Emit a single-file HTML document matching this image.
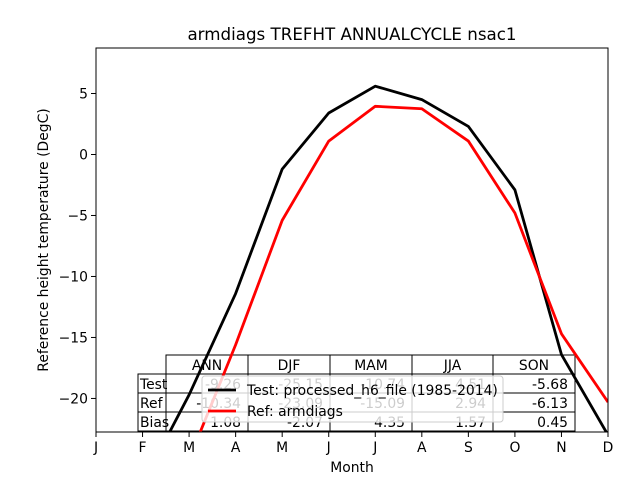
<!DOCTYPE html>
<html><head><meta charset="utf-8"><style>
html,body{margin:0;background:#fff;overflow:hidden;width:640px;height:480px;}
svg{display:block;font-family:"DejaVu Sans","Liberation Sans",sans-serif;}
</style></head><body>
<svg id="chart" width="640" height="480" xmlns="http://www.w3.org/2000/svg">
<rect width="640" height="480" fill="#fff"/>
<text x="352" y="40" font-size="16.7" text-anchor="middle">armdiags TREFHT ANNUALCYCLE nsac1</text>
<g id="table"></g>
<g id="lines"></g>
<g id="axes"></g>
<g id="legend">
<rect x="202" y="376" width="301" height="46" rx="3" fill="#fff" fill-opacity="0.8" stroke="#ccc"/>
<line x1="208" y1="390" x2="236" y2="390" stroke="#000" stroke-width="2.8"/>
<text x="247" y="395" font-size="13.9">Test: processed_h6_file (1985-2014)</text>
<line x1="208" y1="411" x2="236" y2="411" stroke="#f00" stroke-width="2.8"/>
<text x="247" y="416" font-size="13.9">Ref: armdiags</text>
</g>
</svg>
<script>
const months = ["J","F","M","A","M","J","J","A","S","O","N","D"];
const testVals = [-28, -27, -19.7, -11.4, -1.2, 3.4, 5.6, 4.5, 2.3, -2.9, -16.4, -23];
const refVals = [-30, -30, -25, -15.6, -5.4, 1.1, 3.95, 3.75, 1.1, -4.8, -14.7, -20.3];
const yTicks = [5, 0, -5, -10, -15, -20];
const tableCols = ["ANN","DJF","MAM","JJA","SON"];
const tableRows = ["Test","Ref","Bias"];
const testRow = ["-9.26","-25.15","-10.74","4.51","-5.68"];
const refRow = ["-10.34","-23.09","-15.09","2.94","-6.13"];
const biasRow = ["1.08","-2.07","4.35","1.57","0.45"];

const NS="http://www.w3.org/2000/svg";
const L=96,R=608,T=48,B=432, yMin=-22.75, yMax=8.73;
const xs=i=>L+i*(R-L)/11;
const ys=v=>B-(v-yMin)/(yMax-yMin)*(B-T);
function mk(tag,attrs,parent,txt){const e=document.createElementNS(NS,tag);for(const k in attrs)e.setAttribute(k,attrs[k]);if(txt!==undefined)e.textContent=txt;parent.appendChild(e);return e;}

const tb=document.getElementById('table');
const colX=[166,248,330,412,493,575], rowY=[355,374,393,412,431];
for(let c=0;c<5;c++){
  const r=mk('rect',{x:colX[c],y:rowY[0],width:colX[c+1]-colX[c],height:19,fill:'#fff',stroke:'#000'},tb);
  
  
  const t=mk('text',{x:(colX[c]+colX[c+1])/2,y:rowY[0]+15,'font-size':13.9,'text-anchor':'middle'},tb,tableCols[c]);
  
  
}
const rowsData=[testRow,refRow,biasRow];
for(let r=0;r<3;r++){
  const y0=rowY[r+1];
  const lr=mk('rect',{x:138,y:y0,width:28,height:19,fill:'#fff',stroke:'#000'},tb);
  
  
  for(let c=0;c<5;c++){
    const cr=mk('rect',{x:colX[c],y:y0,width:colX[c+1]-colX[c],height:19,fill:'#fff',stroke:'#000'},tb);
    
    
    const ct=mk('text',{x:colX[c+1]-7,y:y0+15,'font-size':13.9,'text-anchor':'end'},tb,rowsData[r][c]);
    
    
  }
  const lt=mk('text',{x:140,y:y0+15,'font-size':13.9},tb,tableRows[r]);
  
  
}
const lg=document.getElementById('lines');
const cp=mk('clipPath',{id:'clip'},lg);
mk('rect',{x:L,y:T,width:R-L,height:B-T},cp);
function line(vals,color,name){
  const p=mk('polyline',{points:vals.map((v,i)=>xs(i)+','+ys(v)).join(' '),fill:'none',stroke:color,'stroke-width':2.8,'clip-path':'url(#clip)','stroke-linejoin':'round'},lg);
  
  
}
line(testVals,'#000','test-line');
line(refVals,'#f00','ref-line');
const ax=document.getElementById('axes');
const fr=mk('rect',{x:L,y:T,width:R-L,height:B-T,fill:'none',stroke:'#000','stroke-width':1},ax);


months.forEach((m,i)=>{
  mk('line',{x1:xs(i),y1:B,x2:xs(i),y2:B+5,stroke:'#000'},ax);
  const t=mk('text',{x:xs(i),y:B+20,'font-size':13.9,'text-anchor':'middle'},ax,m);
  
  
});
yTicks.forEach(v=>{
  mk('line',{x1:L-5,y1:ys(v),x2:L,y2:ys(v),stroke:'#000'},ax);
  const t=mk('text',{x:L-8,y:ys(v)+5,'font-size':13.9,'text-anchor':'end'},ax,v<0?'\u2212'+(-v):String(v));
  
  
});
const xt=mk('text',{x:352,y:472,'font-size':13.9,'text-anchor':'middle'},ax,'Month');


const yt=mk('text',{x:48,y:240,'font-size':13.9,'text-anchor':'middle',transform:'rotate(-90 48 240)'},ax,'Reference height temperature (DegC)');


</script>
</body></html>
